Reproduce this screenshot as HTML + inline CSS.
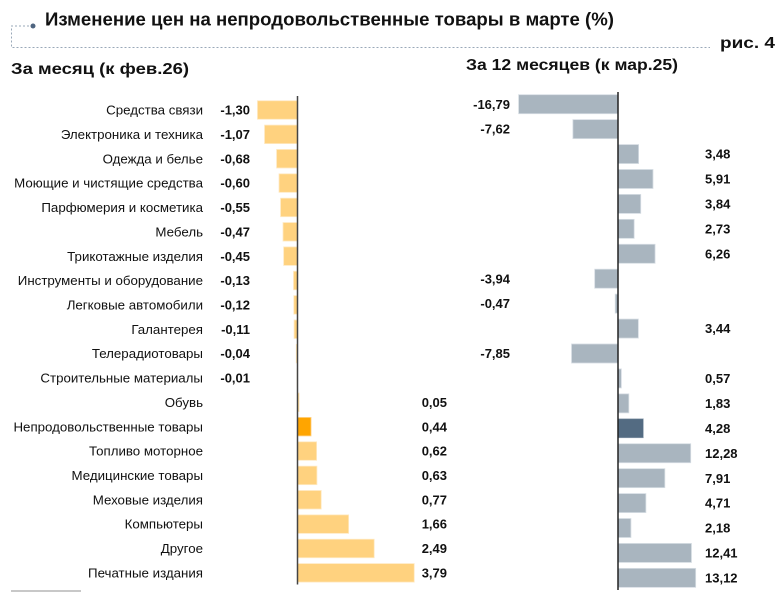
<!DOCTYPE html>
<html><head><meta charset="utf-8"><style>
html,body{margin:0;padding:0;background:#fff;}
svg{display:block;}
text{font-family:"Liberation Sans","Noto Sans CJK SC",sans-serif;fill:#111;}
.c{font-size:13.3px;text-anchor:end;}
.vn{font-size:13px;font-weight:bold;text-anchor:end;}
.vp{font-size:13px;font-weight:bold;text-anchor:end;}
.vs{font-size:13px;font-weight:bold;text-anchor:start;}
.y{fill:#FFD27F;stroke:#FFE9C2;stroke-width:0.8;}
.g{fill:#A9B5BF;stroke:#D6DDE3;stroke-width:0.8;}
</style></head><body>
<svg width="781" height="595" viewBox="0 0 781 595" xmlns="http://www.w3.org/2000/svg">
<path d="M33 26 H11.5 V47.5 H710" fill="none" stroke="#9AA8B8" stroke-width="1" stroke-dasharray="2,2"/>
<circle cx="33" cy="26" r="2.5" fill="#4F6580"/>
<text x="45" y="25.5" font-size="18" font-weight="bold" textLength="569" lengthAdjust="spacingAndGlyphs">Изменение цен на непродовольственные товары в марте (%)</text>
<text x="720" y="48" font-size="16" font-weight="bold" textLength="55" lengthAdjust="spacingAndGlyphs">рис. 4</text>
<text x="11" y="74" font-size="16" font-weight="bold" textLength="178" lengthAdjust="spacingAndGlyphs">За месяц (к фев.26)</text>
<text x="466" y="70" font-size="16" font-weight="bold" textLength="212" lengthAdjust="spacingAndGlyphs">За 12 месяцев (к мар.25)</text>

<!-- Left bars -->
<rect class="y" x="257.46" y="100.75" width="40.04" height="18.5"/>
<rect class="y" x="264.54" y="125.11" width="32.96" height="18.5"/>
<rect class="y" x="276.56" y="149.47" width="20.94" height="18.5"/>
<rect class="y" x="279.02" y="173.83" width="18.48" height="18.5"/>
<rect class="y" x="280.56" y="198.19" width="16.94" height="18.5"/>
<rect class="y" x="283.02" y="222.55" width="14.48" height="18.5"/>
<rect class="y" x="283.64" y="246.91" width="13.86" height="18.5"/>
<rect class="y" x="293.5" y="271.27" width="4.0" height="18.5"/>
<rect class="y" x="293.8" y="295.63" width="3.7" height="18.5"/>
<rect class="y" x="294.11" y="319.99" width="3.39" height="18.5"/>
<rect class="y" x="296.27" y="344.35" width="1.23" height="18.5"/>
<rect class="y" x="297.19" y="368.71" width="0.31" height="18.5"/>
<rect class="y" x="297.5" y="393.07" width="1.54" height="18.5"/>
<rect x="297.5" y="417.43" width="13.55" height="18.5" fill="#FFA500" stroke="#FFD38A" stroke-width="0.8"/>
<rect class="y" x="297.5" y="441.79" width="19.1" height="18.5"/>
<rect class="y" x="297.5" y="466.15" width="19.4" height="18.5"/>
<rect class="y" x="297.5" y="490.51" width="23.72" height="18.5"/>
<rect class="y" x="297.5" y="514.87" width="51.13" height="18.5"/>
<rect class="y" x="297.5" y="539.23" width="76.69" height="18.5"/>
<rect class="y" x="297.5" y="563.59" width="116.73" height="18.5"/>
<line x1="297.5" y1="96" x2="297.5" y2="584.5" stroke="#444" stroke-width="1.5"/>

<!-- Left categories -->
<text class="c" x="203" y="114.6">Средства связи</text>
<text class="c" x="203" y="138.96">Электроника и техника</text>
<text class="c" x="203" y="163.32">Одежда и белье</text>
<text class="c" x="203" y="187.68">Моющие и чистящие средства</text>
<text class="c" x="203" y="212.04">Парфюмерия и косметика</text>
<text class="c" x="203" y="236.4">Мебель</text>
<text class="c" x="203" y="260.76">Трикотажные изделия</text>
<text class="c" x="203" y="285.12">Инструменты и оборудование</text>
<text class="c" x="203" y="309.48">Легковые автомобили</text>
<text class="c" x="203" y="333.84">Галантерея</text>
<text class="c" x="203" y="358.2">Телерадиотовары</text>
<text class="c" x="203" y="382.56">Строительные материалы</text>
<text class="c" x="203" y="406.92">Обувь</text>
<text class="c" x="203" y="431.28">Непродовольственные товары</text>
<text class="c" x="203" y="455.64">Топливо моторное</text>
<text class="c" x="203" y="480">Медицинские товары</text>
<text class="c" x="203" y="504.36">Меховые изделия</text>
<text class="c" x="203" y="528.72">Компьютеры</text>
<text class="c" x="203" y="553.08">Другое</text>
<text class="c" x="203" y="577.44">Печатные издания</text>

<!-- Left values -->
<text class="vn" x="250" y="114.6">-1,30</text>
<text class="vn" x="250" y="138.96">-1,07</text>
<text class="vn" x="250" y="163.32">-0,68</text>
<text class="vn" x="250" y="187.68">-0,60</text>
<text class="vn" x="250" y="212.04">-0,55</text>
<text class="vn" x="250" y="236.4">-0,47</text>
<text class="vn" x="250" y="260.76">-0,45</text>
<text class="vn" x="250" y="285.12">-0,13</text>
<text class="vn" x="250" y="309.48">-0,12</text>
<text class="vn" x="250" y="333.84">-0,11</text>
<text class="vn" x="250" y="358.2">-0,04</text>
<text class="vn" x="250" y="382.56">-0,01</text>
<text class="vp" x="447" y="406.92">0,05</text>
<text class="vp" x="447" y="431.28">0,44</text>
<text class="vp" x="447" y="455.64">0,62</text>
<text class="vp" x="447" y="480">0,63</text>
<text class="vp" x="447" y="504.36">0,77</text>
<text class="vp" x="447" y="528.72">1,66</text>
<text class="vp" x="447" y="553.08">2,49</text>
<text class="vp" x="447" y="577.44">3,79</text>

<!-- Right bars -->
<rect class="g" x="518.6" y="94.7" width="99.4" height="19"/>
<rect class="g" x="572.89" y="119.63" width="45.11" height="19"/>
<rect class="g" x="618" y="144.56" width="20.6" height="19"/>
<rect class="g" x="618" y="169.49" width="34.99" height="19"/>
<rect class="g" x="618" y="194.42" width="22.73" height="19"/>
<rect class="g" x="618" y="219.35" width="16.16" height="19"/>
<rect class="g" x="618" y="244.28" width="37.06" height="19"/>
<rect class="g" x="594.68" y="269.21" width="23.32" height="19"/>
<rect class="g" x="615.22" y="294.14" width="2.78" height="19"/>
<rect class="g" x="618" y="319.07" width="20.36" height="19"/>
<rect class="g" x="571.53" y="344" width="46.47" height="19"/>
<rect class="g" x="618" y="368.93" width="3.37" height="19"/>
<rect class="g" x="618" y="393.86" width="10.83" height="19"/>
<rect x="618" y="418.79" width="25.34" height="19" fill="#536B82" stroke="#8FA0B0" stroke-width="0.6"/>
<rect class="g" x="618" y="443.72" width="72.7" height="19"/>
<rect class="g" x="618" y="468.65" width="46.83" height="19"/>
<rect class="g" x="618" y="493.58" width="27.88" height="19"/>
<rect class="g" x="618" y="518.51" width="12.91" height="19"/>
<rect class="g" x="618" y="543.44" width="73.47" height="19"/>
<rect class="g" x="618" y="568.37" width="77.67" height="19"/>
<line x1="618" y1="92" x2="618" y2="590" stroke="#222" stroke-width="1.5"/>

<!-- Right values -->
<text class="vn" x="510" y="108.8">-16,79</text>
<text class="vn" x="510" y="133.73">-7,62</text>
<text class="vs" x="705" y="158.66">3,48</text>
<text class="vs" x="705" y="183.59">5,91</text>
<text class="vs" x="705" y="208.52">3,84</text>
<text class="vs" x="705" y="233.45">2,73</text>
<text class="vs" x="705" y="258.38">6,26</text>
<text class="vn" x="510" y="283.31">-3,94</text>
<text class="vn" x="510" y="308.24">-0,47</text>
<text class="vs" x="705" y="333.17">3,44</text>
<text class="vn" x="510" y="358.1">-7,85</text>
<text class="vs" x="705" y="383.03">0,57</text>
<text class="vs" x="705" y="407.96">1,83</text>
<text class="vs" x="705" y="432.89">4,28</text>
<text class="vs" x="705" y="457.82">12,28</text>
<text class="vs" x="705" y="482.75">7,91</text>
<text class="vs" x="705" y="507.68">4,71</text>
<text class="vs" x="705" y="532.61">2,18</text>
<text class="vs" x="705" y="557.54">12,41</text>
<text class="vs" x="705" y="582.47">13,12</text>

<line x1="11" y1="591" x2="81" y2="591" stroke="#C8C8C8" stroke-width="2"/>
</svg>
</body></html>
